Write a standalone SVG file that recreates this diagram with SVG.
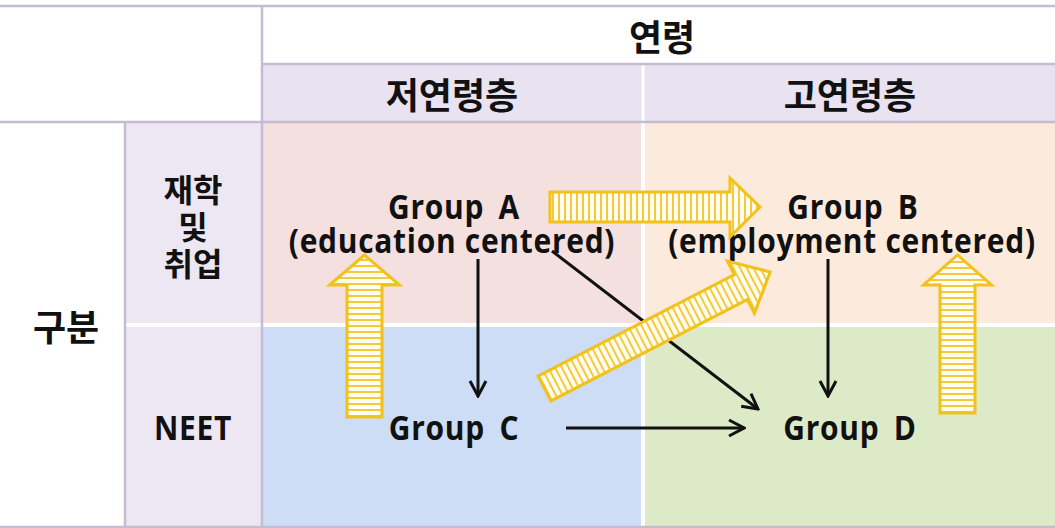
<svg xmlns="http://www.w3.org/2000/svg" width="1055" height="528" viewBox="0 0 1055 528">
<style>
.ko{font-family:"Noto Sans CJK KR","Noto Sans",sans-serif;font-weight:700;fill:#111;text-anchor:middle}
.en{font-family:"Open Sans","Noto Sans",sans-serif;font-weight:700;fill:#111;text-anchor:middle;font-size:30px;letter-spacing:0.7px}
.grp{word-spacing:6px}
.grid{stroke:#C4BCD2;stroke-width:2.5;fill:none}
.blk{stroke:#111;stroke-width:3;fill:none;marker-end:url(#vee)}
.yarr{stroke:#F2C21A;stroke-width:3;stroke-linejoin:miter}
</style>
<defs>
<marker id="vee" viewBox="0 0 20 20" refX="18" refY="10" markerWidth="20" markerHeight="20" markerUnits="userSpaceOnUse" orient="auto">
<path d="M3,2 L18,10 L3,18" fill="none" stroke="#111" stroke-width="3"/>
</marker>
<pattern id="hatch" patternUnits="userSpaceOnUse" width="6" height="10">
<rect width="6" height="10" fill="#FFFDF0"/>
<rect x="0" width="2" height="10" fill="#F5C93A"/>
</pattern>
</defs>
<rect width="1055" height="528" fill="#FFFFFF"/>
<g id="headers">
<rect x="262" y="64" width="793" height="58" fill="#E8E2F1"/>
<rect x="125" y="122" width="137" height="406" fill="#EDE6F3"/>
<line x1="643" y1="64" x2="643" y2="122" stroke="#FFFFFF" stroke-width="3"/>
</g>
<g id="quadrants">
<rect x="262" y="122" width="381" height="202" fill="#F3E0DF"/>
<rect x="643" y="122" width="412" height="202" fill="#FCEBDC"/>
<rect x="262" y="324" width="381" height="204" fill="#CCDDF5"/>
<rect x="643" y="324" width="412" height="204" fill="#DDEAC7"/>
<line x1="125" y1="325" x2="1055" y2="325" stroke="#FFFFFF" stroke-width="4"/>
<line x1="643" y1="122" x2="643" y2="528" stroke="#FFFFFF" stroke-width="4"/>
</g>
<g id="gridlines">
<line class="grid" x1="0" y1="6" x2="1055" y2="6"/>
<line class="grid" x1="262" y1="64" x2="1055" y2="64"/>
<line class="grid" x1="0" y1="122" x2="1055" y2="122" stroke-width="4"/>
<line class="grid" x1="262" y1="6" x2="262" y2="528"/>
<line class="grid" x1="125" y1="122" x2="125" y2="528"/>
<line class="grid" x1="0" y1="527" x2="1055" y2="527"/>
</g>
<g id="labels">
<text class="ko" x="662" y="51" font-size="36">연령</text>
<text class="ko" x="452" y="109" font-size="36">저연령층</text>
<text class="ko" x="850" y="109" font-size="36">고연령층</text>
<text class="ko" x="66" y="341" font-size="36">구분</text>
<text class="ko" x="193" y="202" font-size="32">재학</text>
<text class="ko" x="193" y="239" font-size="32">및</text>
<text class="ko" x="193" y="276" font-size="32">취업</text>
<text class="en" transform="translate(193,440) scale(1,1.12)">NEET</text>
</g>
<g id="groupA">
<text class="en grp" transform="translate(454,219) scale(1,1.15)">Group A</text>
<text class="en" transform="translate(452,253) scale(1,1.15)">(education centered)</text>
</g>
<g id="groupB">
<text class="en grp" transform="translate(853,219) scale(1,1.15)">Group B</text>
<text class="en" transform="translate(852,253) scale(1,1.15)">(employment centered)</text>
</g>
<g id="groupC"><text class="en grp" transform="translate(454,440) scale(1,1.15)">Group C</text></g>
<g id="groupD"><text class="en grp" transform="translate(850,440) scale(1,1.15)">Group D</text></g>
<g id="connectors">
<line class="blk" x1="478" y1="259" x2="478" y2="396"/>
<line class="blk" x1="552" y1="251" x2="758" y2="409"/>
<line class="blk" x1="828" y1="259" x2="828" y2="396"/>
<line class="blk" x1="566" y1="428" x2="744" y2="428"/>
<path class="yarr" fill="url(#hatch)" d="M550,192 L730,192 L730,178 L760,207 L730,237 L730,222 L550,222 Z"/>
<path class="yarr" fill="url(#hatch)" transform="translate(364.5,417) rotate(-90)" d="M0,-17.5 L132,-17.5 L132,-35 L162,0 L132,35 L132,17.5 L0,17.5 Z"/>
<path class="yarr" fill="url(#hatch)" transform="translate(957.5,413) rotate(-90)" d="M0,-17.5 L128,-17.5 L128,-34 L158,0 L128,34 L128,17.5 L0,17.5 Z"/>
<path class="yarr" fill="url(#hatch)" transform="translate(544.5,388.5) rotate(-27.3)" d="M0,-14 L221,-14 L221,-29.5 L254,0 L221,29.5 L221,14 L0,14 Z"/>
</g>
</svg>
